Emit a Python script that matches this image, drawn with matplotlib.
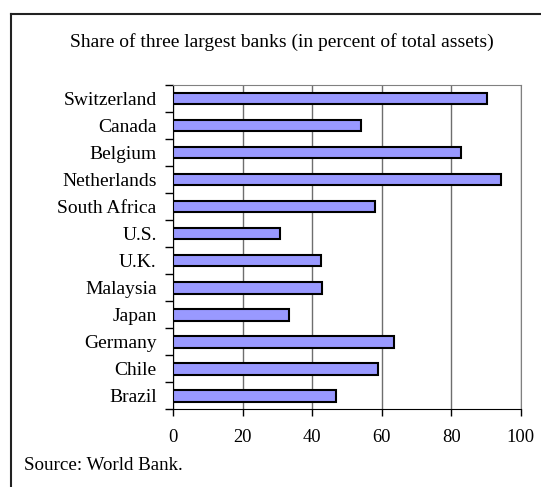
import matplotlib.pyplot as plt
import numpy as np

countries = ["Switzerland", "Canada", "Belgium", "Netherlands", "South Africa", "U.S.",
             "U.K.", "Malaysia", "Japan", "Germany", "Chile", "Brazil"]
shares = [90.2, 54.1, 82.7, 94.3, 58.0, 30.7, 42.5, 42.9, 33.2, 63.6, 58.8, 46.7]
xticks = [0, 20, 40, 60, 80, 100]

plt.rcParams['font.family'] = ['Liberation Serif', 'DejaVu Serif']

fig = plt.figure(figsize=(5.41, 4.87), dpi=100)
ax = fig.add_axes([0.3204, 0.1595, 0.6421, 0.6659])

# outer frame: only top and left edges show
fig.add_artist(plt.Line2D([11 / 541, 1], [1 - 14 / 487, 1 - 14 / 487], color='#222222', lw=1.5))
fig.add_artist(plt.Line2D([11 / 541, 11 / 541], [0, 1 - 14 / 487], color='#222222', lw=1.5))

y = np.arange(len(countries))
ax.barh(y, shares, height=0.43, color='#9999FF', edgecolor='black', linewidth=1.5, zorder=3)

ax.set_xlim(0, 100)
ax.set_ylim(len(countries) - 0.5, -0.5)
ax.set_xticks(xticks)
ax.set_xticklabels([str(t) for t in xticks], fontsize=13.3)
ax.set_yticks(y)
ax.set_yticklabels(countries, fontsize=14)
ax.set_yticks(np.arange(-0.5, len(countries)), minor=True)
ax.tick_params(axis='y', which='major', length=0, pad=12)
ax.tick_params(axis='y', which='minor', length=6, width=1, direction='out')
ax.tick_params(axis='x', length=5, width=1, direction='out', pad=9)

ax.grid(axis='x', color='#6e6e6e', linewidth=1, zorder=0)
ax.set_axisbelow(True)
ax.spines['left'].set_color('black')
ax.spines['bottom'].set_color('black')
ax.spines['top'].set_color('#808080')
ax.spines['right'].set_color('#808080')

fig.text(282 / 541, 1 - 42 / 487, "Share of three largest banks (in percent of total assets)",
         ha='center', va='center', fontsize=14)
fig.text(24 / 541, 1 - 465 / 487, "Source: World Bank.", ha='left', va='center', fontsize=13.7)

fig.savefig("out.png", dpi=100)
